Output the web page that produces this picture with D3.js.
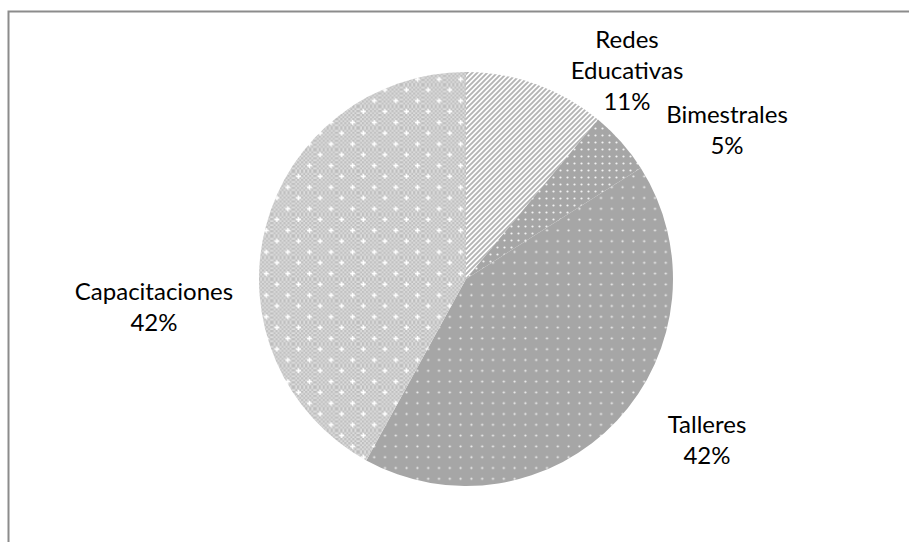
<!DOCTYPE html>
<html>
<head>
<meta charset="utf-8">
<script src="https://cdn.jsdelivr.net/npm/d3@7"></script>
<style>
  html, body { margin: 0; padding: 0; background: #fff; }
  svg { display: block; }
</style>
</head>
<body>
<svg id="chart" width="909" height="542"></svg>
<script>
// ---- data ----
const categories = ["Redes Educativas", "Bimestrales", "Talleres", "Capacitaciones"];
const values = [11, 5, 42, 42];
const labelLines = [["Redes", "Educativas", "11%"], ["Bimestrales", "5%"], ["Talleres", "42%"], ["Capacitaciones", "42%"]];

// ---- layout ----
const W = 909, H = 542;
const cx = 466, cy = 279, R = 207;
const labelAnchors = [[627, 48], [727, 123], [707, 433], [154, 300]];
const lineStep = 31;

const svg = d3.select("#chart");
const defs = svg.append("defs");

// Pattern: Redes (upward diagonal stripes)
const p0 = defs.append("pattern").attr("id", "p0").attr("patternUnits", "userSpaceOnUse")
  .attr("width", 5).attr("height", 5);
p0.append("rect").attr("width", 5).attr("height", 5).attr("fill", "#ffffff");
p0.append("path").attr("d", "M-1,6 L6,-1 M-1,1 L1,-1 M4,6 L6,4")
  .attr("stroke", "#b4b4b4").attr("stroke-width", 1.9);

// Pattern: Bimestrales (gray with dense white dots)
const p1 = defs.append("pattern").attr("id", "p1").attr("patternUnits", "userSpaceOnUse")
  .attr("width", 7).attr("height", 7);
p1.append("rect").attr("width", 7).attr("height", 7).attr("fill", "#a6a6a6");
p1.append("circle").attr("cx", 3.5).attr("cy", 3.5).attr("r", 1.1).attr("fill", "#f2f2f2");

// Pattern: Talleres (gray with sparse white dots)
const p2 = defs.append("pattern").attr("id", "p2").attr("patternUnits", "userSpaceOnUse")
  .attr("width", 10.8).attr("height", 10.8);
p2.append("rect").attr("width", 10.8).attr("height", 10.8).attr("fill", "#a6a6a6");
p2.append("circle").attr("cx", 5.4).attr("cy", 5.4).attr("r", 1.1).attr("fill", "#f0f0f0");

// Pattern: Capacitaciones (fine checker + staggered white crosses)
const s = 21.6;
const p3 = defs.append("pattern").attr("id", "p3").attr("patternUnits", "userSpaceOnUse")
  .attr("width", s).attr("height", s);
const chk = defs.append("pattern").attr("id", "chk").attr("patternUnits", "userSpaceOnUse")
  .attr("width", 4).attr("height", 4);
chk.append("rect").attr("width", 4).attr("height", 4).attr("fill", "#dedede");
chk.append("rect").attr("width", 2).attr("height", 2).attr("fill", "#bcbcbc");
chk.append("rect").attr("x", 2).attr("y", 2).attr("width", 2).attr("height", 2).attr("fill", "#bcbcbc");
p3.append("rect").attr("width", s).attr("height", s).attr("fill", "url(#chk)");
[[s / 4, s / 4], [3 * s / 4, 3 * s / 4]].forEach(([x, y]) => {
  p3.append("path").attr("d", `M${x - 2.5},${y} H${x + 2.5} M${x},${y - 2.5} V${y + 2.5}`)
    .attr("stroke", "#ffffff").attr("stroke-width", 1.3);
  p3.append("rect").attr("x", x - 1).attr("y", y - 1).attr("width", 2).attr("height", 2).attr("fill", "#fff");
});

const fills = ["url(#p0)", "url(#p1)", "url(#p2)", "url(#p3)"];

// border
svg.append("path").attr("d", `M8.5,${H + 2} V11.5 H${W + 2}`)
  .attr("fill", "none").attr("stroke", "#8c8c8c").attr("stroke-width", 2);

const pie = d3.pie().sort(null).value(d => d)(values);
const arc = d3.arc().innerRadius(0).outerRadius(R);

const g = svg.append("g").attr("transform", `translate(${cx},${cy})`);
g.selectAll("path.slice").data(pie).join("path")
  .attr("class", "slice")
  .attr("d", arc)
  .attr("fill", (d, i) => fills[i]);

const labels = svg.append("g")
  .attr("font-family", "Lato, 'Open Sans', sans-serif")
  .attr("font-size", 24)
  .attr("fill", "#000")
  .attr("text-anchor", "middle");
labelLines.forEach((lines, i) => {
  const t = labels.append("text").attr("x", labelAnchors[i][0]).attr("y", labelAnchors[i][1]);
  lines.forEach((ln, j) => {
    t.append("tspan").attr("x", labelAnchors[i][0]).attr("dy", j === 0 ? 0 : lineStep).text(ln);
  });
});
</script>
</body>
</html>
